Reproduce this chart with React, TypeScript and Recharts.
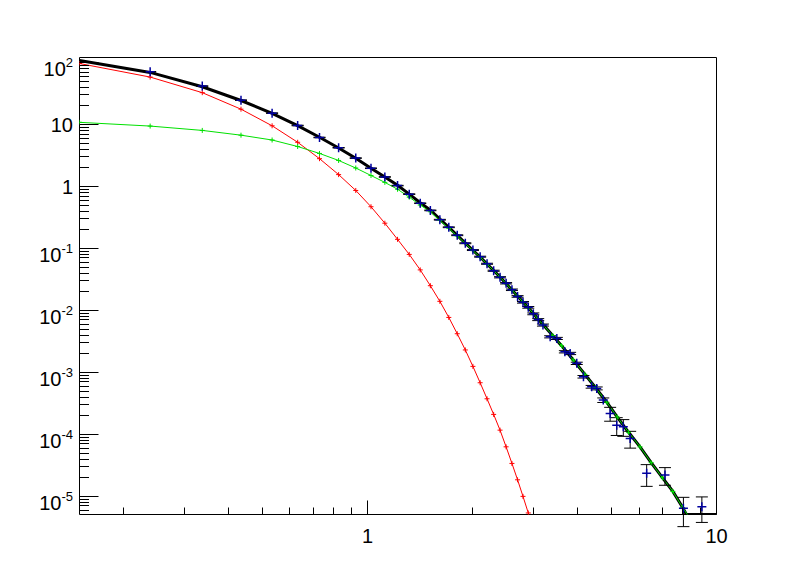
import React from "react";
import { ComposedChart, Line, Scatter, XAxis, YAxis, ErrorBar, ReferenceArea } from "recharts";

// ---------- data ----------
const X_MIN = 0.15;
const X_MAX = 10;
const Y_MIN = 5.1e-6;
const Y_MAX = 120;

// red component (with markers)
const RED_X = [0.15, 0.239, 0.337, 0.435, 0.534, 0.632, 0.73, 0.828, 0.927, 1.025, 1.123, 1.221, 1.319, 1.418, 1.516, 1.614, 1.712, 1.81, 1.909, 2.007, 2.105, 2.203, 2.301, 2.4, 2.498, 2.596, 2.694, 2.792, 2.891, 2.989];
const RED_Y = [96, 58, 32.5, 17.6, 9.5, 5.15, 2.8, 1.55, 0.86, 0.47, 0.255, 0.14, 0.08, 0.045, 0.025, 0.014, 0.0077, 0.0042, 0.0023, 0.00125, 6.8e-4, 3.75e-4, 2.1e-4, 1.17e-4, 6.3e-5, 3.4e-5, 1.85e-5, 1.0e-5, 5.4e-6, 2.9e-6];

// green component (with markers)
const GREEN_X = [0.15, 0.239, 0.337, 0.435, 0.534, 0.632, 0.73, 0.828, 0.927, 1.025, 1.123, 1.221, 1.319, 1.418, 1.516, 1.614, 1.712, 1.81, 1.909, 2.007, 2.105, 2.203, 2.301, 2.4, 2.498, 2.596, 2.694, 2.792, 2.891, 2.989, 3.087, 3.185, 3.4, 3.6, 3.89, 4.2, 4.5, 4.85, 5.2, 5.6, 6.04, 6.5, 7.0, 7.5, 8.0, 8.4];
const GREEN_Y = [10.8, 9.4, 8.0, 6.7, 5.6, 4.4, 3.4, 2.62, 1.98, 1.5, 1.16, 0.9, 0.67, 0.5, 0.39, 0.282, 0.21, 0.158, 0.12, 0.092, 0.072, 0.0556, 0.0438, 0.0344, 0.027, 0.0213, 0.017, 0.0136, 0.011, 0.0089, 0.0072, 0.0059, 0.0039, 0.0027, 0.00158, 9.3e-4, 5.7e-4, 3.3e-4, 1.9e-4, 1.08e-4, 6.3e-5, 3.5e-5, 2.0e-5, 1.2e-5, 6.6e-6, 4.4e-6];

// total fit (thick black); tail sits on the axis floor
const TOTAL_X = [0.15, 0.239, 0.337, 0.435, 0.534, 0.632, 0.73, 0.828, 0.927, 1.025, 1.123, 1.221, 1.319, 1.418, 1.516, 1.614, 1.712, 1.81, 1.909, 2.007, 2.105, 2.203, 2.301, 2.4, 2.498, 2.596, 2.694, 2.792, 2.891, 2.989, 3.087, 3.185, 3.4, 3.6, 3.89, 4.2, 4.5, 4.85, 5.2, 5.6, 6.04, 6.5, 7.0, 7.5, 8.0, 8.2, 9.0, 10];
const TOTAL_Y = [107, 69, 40.5, 24.3, 15.1, 9.55, 6.2, 4.17, 2.84, 1.97, 1.415, 1.04, 0.75, 0.545, 0.415, 0.296, 0.218, 0.162, 0.122, 0.0933, 0.0727, 0.056, 0.044, 0.0345, 0.027, 0.0213, 0.017, 0.0136, 0.011, 0.0089, 0.0072, 0.0059, 0.0039, 0.0027, 0.00158, 9.3e-4, 5.7e-4, 3.3e-4, 1.9e-4, 1.08e-4, 6.3e-5, 3.5e-5, 2.0e-5, 1.2e-5, 6.6e-6, Y_MIN, Y_MIN, Y_MIN];

// measured points with errors
const DATA_X = [0.239, 0.337, 0.435, 0.534, 0.632, 0.73, 0.828, 0.927, 1.025, 1.123, 1.221, 1.319, 1.418, 1.516, 1.614, 1.712, 1.81, 1.909, 2.007, 2.105, 2.203, 2.301, 2.4, 2.498, 2.596, 2.694, 2.792, 2.891, 2.989, 3.087, 3.185, 3.34, 3.49, 3.68, 3.81, 3.98, 4.16, 4.39, 4.54, 4.74, 4.96, 5.18, 5.41, 5.66, 6.31, 7.12, 8.04, 9.08];
const DATA_Y = [70.5, 41.5, 24.6, 15.2, 9.6, 6.15, 4.2, 2.86, 1.96, 1.42, 1.03, 0.75, 0.535, 0.41, 0.29, 0.219, 0.163, 0.121, 0.094, 0.0735, 0.0565, 0.0436, 0.0342, 0.0274, 0.0215, 0.0168, 0.0135, 0.0112, 0.0088, 0.0071, 0.0058, 0.00375, 0.00353, 0.00215, 0.00202, 0.0014, 8.5e-4, 5.86e-4, 5.52e-4, 3.57e-4, 2.18e-4, 1.41e-4, 1.33e-4, 8.6e-5, 2.35e-5, 2.21e-5, 6.45e-6, 6.8e-6];
const DATA_ERR = [0.7, 0.4, 0.25, 0.15, 0.1, 0.06, 0.04, 0.03, 0.02, 0.015, 0.011, 0.008, 0.006, 0.005, 0.004, 0.003, 0.0025, 0.002, 0.0016, 0.0013, 0.0011, 0.0009, 0.0008, 0.0007, 0.0006, 0.0005, 0.0004, 0.00035, 0.0003, 0.00026, 0.00022, 1.5e-4, 1.4e-4, 9e-5, 8.5e-5, 6e-5, 4e-5, 3e-5, 3e-5, 3e-5, 5.5e-5, 4.5e-5, 4e-5, 2.6e-5, 9e-6, 7e-6, 3.2e-6, 3e-6];

// axis ticks & labels
const X_MAJOR = [1, 10];
const X_LABELS = ["1", "10"];
const X_MINOR = [0.2, 0.3, 0.4, 0.5, 0.6, 0.7, 0.8, 0.9, 2, 3, 4, 5, 6, 7, 8, 9];
const Y_MAJOR = [1e-5, 1e-4, 1e-3, 1e-2, 1e-1, 1, 10, 100];
const Y_LABEL_BASE = ["10", "10", "10", "10", "10", "1", "10", "10"];
const Y_LABEL_EXP = ["-5", "-4", "-3", "-2", "-1", "", "", "2"];
const Y_MANTISSAS = [2, 3, 4, 5, 6, 7, 8, 9];
const Y_EXPONENTS = [-6, -5, -4, -3, -2, -1, 0, 1, 2];

// ---------- layout ----------
const W = 796;
const H = 572;
const PL = 79.5;
const PR = 716.5;
const PT = 57.5;
const PB = 514.5;
const FONT = '"Liberation Sans", Arial, Helvetica, sans-serif';

const zip = (xs: number[], ys: number[]) => xs.map((x, i) => ({ x, y: ys[i] }));
const RED = zip(RED_X, RED_Y);
const GREEN = zip(GREEN_X, GREEN_Y);
const TOTAL = zip(TOTAL_X, TOTAL_Y);
const DATA = DATA_X.map((x, i) => ({ x, y: DATA_Y[i], err: DATA_ERR[i] }));

const X_TICKS = [...X_MINOR, ...X_MAJOR].sort((a, b) => a - b);
const Y_TICKS: number[] = [];
Y_EXPONENTS.forEach((e) => {
  [1, ...Y_MANTISSAS].forEach((m) => {
    const v = m * Math.pow(10, e);
    if (v >= Y_MIN && v <= Y_MAX) Y_TICKS.push(v);
  });
});

const snap = (v: number) => Math.round(v - 0.5) + 0.5;
const near = (a: number, b: number) => Math.abs(a - b) <= 1e-6 * Math.abs(b);

const XTick = (props: any) => {
  const { x, payload } = props;
  const v = payload.value;
  const cx = snap(payload.coordinate ?? x);
  const idx = X_MAJOR.findIndex((m) => near(v, m));
  const len = idx >= 0 ? 14 : 7;
  return (
    <g>
      <line x1={cx} x2={cx} y1={PB} y2={PB - len} stroke="#000" strokeWidth={1} />
      {idx >= 0 && (
        <text x={cx} y={543} textAnchor="middle" fontSize={20} fontFamily={FONT} fill="#000">
          {X_LABELS[idx]}
        </text>
      )}
    </g>
  );
};

const YTick = (props: any) => {
  const { y, payload } = props;
  const v = payload.value;
  const cy = snap(payload.coordinate ?? y);
  const idx = Y_MAJOR.findIndex((m) => near(v, m));
  const major = idx >= 0;
  const exp = major ? Y_LABEL_EXP[idx] : "";
  return (
    <g>
      <line x1={PL} x2={PL + (major ? 19 : 9.5)} y1={cy} y2={cy} stroke="#000" strokeWidth={1} />
      {major && (
        <text x={73} y={cy + (exp ? 13.3 : 7)} textAnchor="end" fontSize={20} fontFamily={FONT} fill="#000">
          {Y_LABEL_BASE[idx]}
          {exp && (
            <tspan dy={-8.9} fontSize={13}>
              {exp}
            </tspan>
          )}
        </text>
      )}
    </g>
  );
};

const plusPath = (cx: number, cy: number, s: number) =>
  `M${cx - s},${cy}H${cx + s}M${cx},${cy - s}V${cy + s}`;

const makeDot = (color: string, s: number) => (p: any) => {
  const k = `d-${color}-${p.index}`;
  if (p.cx == null || p.cy == null || !isFinite(p.cx) || !isFinite(p.cy)) return <g key={k} />;
  return <path key={k} d={plusPath(p.cx, p.cy, s)} stroke={color} strokeWidth={1} fill="none" />;
};

const DataShape = (p: any) => {
  if (p.cx == null || p.cy == null) return <g />;
  return <path d={plusPath(p.cx, p.cy, 4.5)} stroke="#0000a0" strokeWidth={1.5} fill="none" />;
};

export default function App() {
  return (
    <div style={{ position: "absolute", left: 0, top: 0, width: W, height: H, background: "#fff" }}>
      <ComposedChart
        width={W}
        height={H}
        margin={{ top: PT, right: W - PR, bottom: 0, left: 0 }}
      >
        <XAxis
          dataKey="x"
          type="number"
          scale="log"
          domain={[X_MIN, X_MAX]}
          allowDataOverflow
          ticks={X_TICKS}
          interval={0}
          height={H - PB}
          tickLine={false}
          axisLine={false}
          tick={(p: any) => <XTick {...p} />}
        />
        <YAxis
          dataKey="y"
          type="number"
          scale="log"
          domain={[Y_MIN, Y_MAX]}
          allowDataOverflow
          ticks={Y_TICKS}
          interval={0}
          width={PL}
          tickLine={false}
          axisLine={false}
          tick={(p: any) => <YTick {...p} />}
        />
        <Line
          data={TOTAL}
          dataKey="y"
          type="linear"
          stroke="#000"
          strokeWidth={3}
          dot={false}
          activeDot={false}
          isAnimationActive={false}
        />
        <Line
          data={RED}
          dataKey="y"
          type="linear"
          stroke="#ff0000"
          strokeWidth={1}
          dot={makeDot("#ff0000", 2.5)}
          activeDot={false}
          isAnimationActive={false}
        />
        <Line
          data={GREEN}
          dataKey="y"
          type="linear"
          stroke="#00e000"
          strokeWidth={1}
          dot={makeDot("#00e000", 2.5)}
          activeDot={false}
          isAnimationActive={false}
        />
        <Scatter data={DATA} dataKey="y" shape={DataShape} isAnimationActive={false}>
          <ErrorBar dataKey="err" direction="y" stroke="#000" strokeWidth={1} width={6} />
        </Scatter>
        <ReferenceArea
          x1={X_MIN}
          x2={X_MAX}
          y1={Y_MIN}
          y2={Y_MAX}
          fill="none"
          fillOpacity={0}
          stroke="#000"
          strokeWidth={1}
        />
      </ComposedChart>
    </div>
  );
}
